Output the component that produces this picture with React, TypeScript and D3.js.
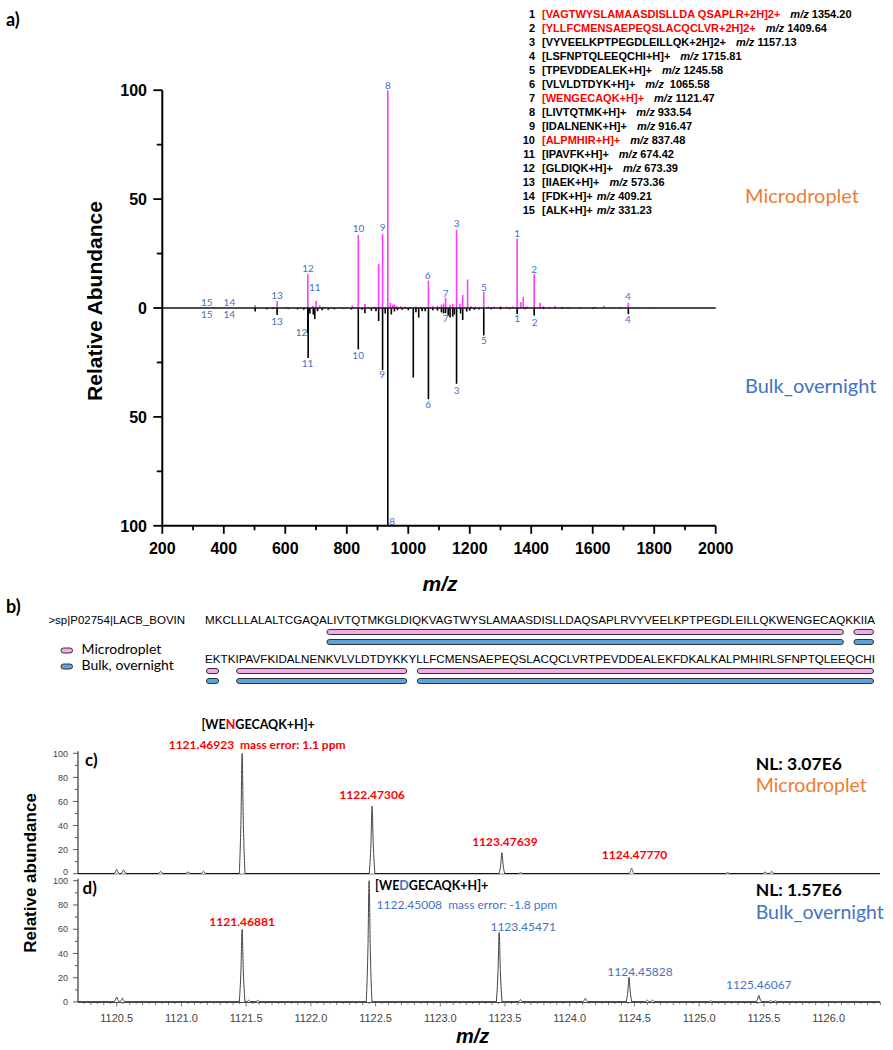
import * as d3 from 'd3'

// ---------- panel a: peptide list ----------
const legendPeptides = [
  '[VAGTWYSLAMAASDISLLDA QSAPLR+2H]2+',
  '[YLLFCMENSAEPEQSLACQCLVR+2H]2+',
  '[VYVEELKPTPEGDLEILLQK+2H]2+',
  '[LSFNPTQLEEQCHI+H]+',
  '[TPEVDDEALEK+H]+',
  '[VLVLDTDYK+H]+',
  '[WENGECAQK+H]+',
  '[LIVTQTMK+H]+',
  '[IDALNENK+H]+',
  '[ALPMHIR+H]+',
  '[IPAVFK+H]+',
  '[GLDIQK+H]+',
  '[IIAEK+H]+',
  '[FDK+H]+',
  '[ALK+H]+',
]
const legendMz = ['1354.20', '1409.64', '1157.13', '1715.81', '1245.58', ' 1065.58', '1121.47', '933.54', '916.47', '837.48', '674.42', '673.39', '573.36', '409.21', '331.23']
const legendRed = [true, true, false, false, false, false, true, false, false, true, false, false, false, false, false]

// ---------- panel a: mirror spectrum (m/z, relative abundance) ----------
const microPeaks: [number, number][] = [
  [502, 1.3], [560, 0.4], [573.4, 3.2], [673.4, 15.5], [690, 1.0], [700, 3.2], [712, 1.2], [725, 0.5],
  [745, 0.4], [780, 0.4], [800, 0.5], [818, 1.1], [837.5, 33.5], [859, 1.9], [870, 0.5], [890, 0.6],
  [903.7, 20.2], [916.5, 34.0], [933.5, 100], [942, 2.5], [950, 1.5], [955, 1.6], [962, 1.0], [975, 0.8],
  [990, 0.6], [1005, 0.5], [1025, 0.7], [1040, 0.5], [1065.6, 12.6], [1080, 0.8], [1095, 1.0], [1108, 1.6],
  [1115, 2.0], [1121.5, 4.7], [1136, 1.5], [1145, 2.0], [1157.1, 35.9], [1168, 2.0], [1177, 6.0], [1193, 13.1],
  [1205, 0.8], [1220, 0.6], [1245.6, 7.4], [1260, 0.7], [1280, 0.6], [1300, 0.8], [1320, 0.6], [1340, 0.7],
  [1354.2, 31.9], [1366.5, 2.7], [1374, 5.1], [1385, 0.8], [1409.6, 15.5], [1429, 2.4], [1440, 0.8], [1460, 0.5],
  [1477, 1.0], [1500, 0.6], [1520, 0.6], [1560, 0.5], [1607, 0.6], [1636, 1.1], [1660, 0.5], [1690, 0.5],
  [1715.8, 2.4], [1750, 0.4], [1790, 0.4], [1830, 0.3],
]
const bulkPeaks: [number, number][] = [
  [502, -1.6], [540, -0.6], [560, -0.5], [573.4, -3.2], [610, -0.5], [640, -0.6], [660, -0.8], [673.4, -11.5],
  [674.4, -22.9], [680, -2.5], [691, -3.0], [696, -5.1], [705, -1.5], [720, -1.0], [740, -0.8], [760, -0.6],
  [790, -0.5], [815, -0.7], [837.5, -19.0], [850, -0.8], [859, -2.4], [880, -1.2], [895, -1.5], [903.7, -6.0],
  [916.5, -28.5], [925, -2.5], [933.5, -100], [945, -3.0], [955, -1.6], [965, -1.0], [980, -0.8], [1000, -1.0],
  [1016.3, -31.9], [1025, -2.0], [1034, -4.4], [1045, -1.5], [1055, -1.5], [1065.6, -41.9], [1080, -1.0], [1095, -1.2],
  [1108, -2.0], [1115, -2.5], [1121.5, -2.4], [1130, -3.5], [1136, -4.4], [1144.6, -4.0], [1150, -3.0], [1157.1, -34.8],
  [1170, -2.5], [1177, -5.5], [1190, -1.6], [1200, -1.2], [1215, -0.8], [1230, -0.7], [1245.6, -12.6], [1270, -0.6],
  [1300, -0.6], [1330, -0.5], [1354.2, -2.8], [1380, -0.6], [1409.6, -3.5], [1440, -0.5], [1500, -0.4], [1600, -0.4],
  [1715.8, -2.8],
]
// peak numbers, placed at (m/z, abundance)
const microLabels: [string, number, number][] = [
  ['15', 344.7, 2.4], ['14', 418.2, 2.4], ['13', 573, 5.7], ['12', 674, 18], ['11', 696, 9.5],
  ['10', 838, 36.4], ['9', 916.5, 36.8], ['8', 934, 102.1], ['6', 1063, 14.7], ['7', 1121.6, 6.5],
  ['3', 1157.4, 38.7], ['5', 1246, 9.5], ['1', 1354.4, 34], ['2', 1409.7, 17.7], ['4', 1714.5, 5.1],
]
const bulkLabels: [string, number, number][] = [
  ['15', 344.7, -3.2], ['14', 418, -2.8], ['13', 573, -6], ['12', 653, -11.4], ['11', 672.5, -25.3],
  ['10', 837, -21.8], ['9', 915.4, -30.5], ['8', 947.7, -98], ['6', 1065, -44.3], ['7', 1121.6, -4.7],
  ['3', 1157.4, -37.9], ['5', 1246, -15], ['1', 1354.4, -4.7], ['2', 1411, -6.6], ['4', 1714.5, -5.4],
]
const xTicksA = [200, 400, 600, 800, 1000, 1200, 1400, 1600, 1800, 2000]
const yTicksA = [-100, -50, 0, 50, 100]

// ---------- panel b: sequence coverage ----------
const seqName = '>sp|P02754|LACB_BOVIN'
const sequence =
  'MKCLLLALALTCGAQALIVTQTMKGLDIQKVAGTWYSLAMAASDISLLDAQSAPLRVYVEELKPTPEGDLEILLQKWENGECAQKKIIA' +
  'EKTKIPAVFKIDALNENKVLVLDTDYKKYLLFCMENSAEPEQSLACQCLVRTPEVDDEALEKFDKALKALPMHIRLSFNPTQLEEQCHI'
const rowLen = 89
// covered residues, 1-based inclusive
const microCoverage: [number, number][] = [[17, 85], [87, 91], [94, 116], [118, 178]]
const bulkCoverage: [number, number][] = [[17, 85], [87, 91], [94, 116], [118, 178]]

// ---------- panels c/d: isotope clusters ----------
const cPeaks: [number, number][] = [
  [1120.5, 3.6], [1120.553, 3.2], [1120.84, 2], [1121.05, 1.5], [1121.17, 2], [1121.469, 100],
  [1122.473, 56.2], [1123.476, 17.5], [1123.62, 1], [1124.478, 4.5], [1125.22, 1], [1125.51, 1.5], [1125.56, 2],
]
const dPeaks: [number, number][] = [
  [1120.5, 4.1], [1120.544, 3.2], [1121.469, 59.9], [1121.52, 1.5], [1121.59, 1.5], [1122.45, 100],
  [1123.455, 57.5], [1123.62, 2], [1124.12, 3], [1124.458, 20.4], [1124.6, 1.5], [1124.64, 1.5],
  [1125.09, 1], [1125.461, 5.5], [1125.55, 1.2], [1125.59, 1],
]
const cLabels: [string, number, number][] = [
  ['1122.47306', 1122.473, 56.2], ['1123.47639', 1123.476, 17.5], ['1124.47770', 1124.478, 4.5],
]
const dLabels: [string, number, number][] = [
  ['1123.45471', 1123.455, 57.5], ['1124.45828', 1124.458, 20.4], ['1125.46067', 1125.461, 5.5],
]
const xTicksCD = [1120.5, 1121.0, 1121.5, 1122.0, 1122.5, 1123.0, 1123.5, 1124.0, 1124.5, 1125.0, 1125.5, 1126.0]
const yTicksCD = [0, 20, 40, 60, 80, 100]

const MAGENTA = '#ff3cff'
const LBLUE = '#4472c4'
const ORANGE = '#ed7d31'
const RED = '#ff0000'
const ARIAL = 'Liberation Sans, Arial, sans-serif'
const CALIBRI = 'Lato, Open Sans, sans-serif'

const xA = d3.scaleLinear().domain([200, 2000]).range([162.3, 715.7])
const yA = d3.scaleLinear().domain([-100, 100]).range([525.8, 90.2])
const xRes = d3.scaleLinear().domain([0, rowLen]).range([205, 875])
const xCD = d3.scaleLinear().domain([1120.5, 1126.0]).range([116.7, 828.6])
const yC = d3.scaleLinear().domain([0, 100]).range([873.7, 753.3])
const yD = d3.scaleLinear().domain([0, 100]).range([1002, 880.7])

const peakPath = (mz: number, h: number, y: d3.ScaleLinear<number, number>) => {
  const hw = 0.022
  const pts: [number, number][] = [[mz - hw, 0], [mz - hw * 0.4, h * 0.45], [mz, h], [mz + hw * 0.4, h * 0.45], [mz + hw, 0]]
  return d3.line<[number, number]>().x(d => xCD(d[0])).y(d => y(d[1])).curve(d3.curveMonotoneX)(pts) || ''
}

// split a coverage range into per-row segments
const rowSegments = (cov: [number, number][]) => {
  const out: { row: number; a: number; b: number }[] = []
  cov.forEach(([s, e]) => {
    for (let r = 0; r < 2; r++) {
      const lo = Math.max(s, r * rowLen + 1)
      const hi = Math.min(e, (r + 1) * rowLen)
      if (lo <= hi) out.push({ row: r, a: lo - r * rowLen - 1, b: hi - r * rowLen })
    }
  })
  return out
}

const CDAxes = ({ y, bottom, xLabels, skipTop }: { y: d3.ScaleLinear<number, number>; bottom: number; xLabels: boolean; skipTop?: boolean }) => {
  const minor = d3.range(0, 101, 10)
  const xMinor = d3.range(1120.25, 1126.4, 0.05)
  return (
    <g>
      <line x1={78} x2={880} y1={bottom} y2={bottom} stroke="#111" strokeWidth={1.3} />
      <line x1={78} x2={78} y1={y(100) - 2} y2={bottom} stroke="#111" strokeWidth={1} />
      {minor.map(v => (
        <line key={'m' + v} x1={v % 20 === 0 ? 73 : 75} x2={78} y1={y(v)} y2={y(v)} stroke="#333" strokeWidth={0.8} />
      ))}
      {yTicksCD.map(v => (
        <text key={'t' + v} x={68} y={y(v) + (v === 0 && skipTop ? 1.5 : v === 100 && !xLabels ? 3.5 : 3.2)}
          textAnchor="end" fontFamily={ARIAL} fontSize={9} fill="#444">{v}</text>
      ))}
      {xLabels && xMinor.map((v, i) => {
        const big = Math.abs(v * 2 - Math.round(v * 2)) < 1e-6
        const mid = Math.abs(v * 10 - Math.round(v * 10)) < 1e-6
        return <line key={'x' + i} x1={xCD(v)} x2={xCD(v)} y1={bottom} y2={bottom + (big ? 4.5 : mid ? 3 : 2)} stroke="#444" strokeWidth={0.7} />
      })}
      {xLabels && xTicksCD.map(v => (
        <text key={'xl' + v} x={xCD(v)} y={bottom + 20} textAnchor="middle" fontFamily={ARIAL} fontSize={11} fill="#444">{v.toFixed(1)}</text>
      ))}
    </g>
  )
}

export default function App() {
  const segsMicro = rowSegments(microCoverage)
  const segsBulk = rowSegments(bulkCoverage)
  const rowY = [629.5, 668.5]
  return (
    <svg width={893} height={1050} style={{ position: 'absolute', left: 0, top: 0, background: '#fff' }}>
      <rect width={893} height={1050} fill="#fff" />

      {/* ---------------- panel a ---------------- */}
      <text x={6} y={26} fontFamily={CALIBRI} fontWeight="bold" fontSize={18}>a)</text>

      {legendPeptides.map((p, i) => {
        const yb = 18 + i * 13.97
        return (
          <g key={p} fontFamily={ARIAL} fontWeight="bold" fontSize={11}>
            <text x={535} y={yb} textAnchor="end">{i + 1}</text>
            <text x={542} y={yb} style={{ whiteSpace: 'pre' }}>
              <tspan fill={legendRed[i] ? RED : '#000'}>{p}</tspan>
              <tspan dx={i >= 13 ? 4 : 10} fontStyle="italic">m/z</tspan>
              <tspan> {legendMz[i]}</tspan>
            </text>
          </g>
        )
      })}
      <text x={745} y={203} fontFamily={CALIBRI} fontSize={20} fill={ORANGE}>Microdroplet</text>
      <text x={745} y={393} fontFamily={CALIBRI} fontSize={20} fill={LBLUE}>Bulk_overnight</text>

      {bulkPeaks.map(([mz, v], i) => (
        <line key={'b' + i} x1={xA(mz)} x2={xA(mz)} y1={yA(0)} y2={yA(v)} stroke="#000" strokeWidth={1.6} />
      ))}
      {microPeaks.map(([mz, v], i) => (
        <line key={'p' + i} x1={xA(mz)} x2={xA(mz)} y1={yA(0)} y2={yA(v)} stroke={MAGENTA} strokeWidth={1.6} />
      ))}
      <line x1={xA(200)} x2={xA(2000)} y1={yA(0)} y2={yA(0)} stroke="#111" strokeWidth={1.6} />

      {microLabels.concat(bulkLabels).map(([t, mz, v], i) => (
        <text key={'l' + i} x={xA(mz)} y={yA(v)} dy="0.35em" textAnchor="middle" fontFamily={CALIBRI} fontSize={10} fill={LBLUE}>{t}</text>
      ))}

      {/* axes */}
      <line x1={xA(200)} x2={xA(200)} y1={yA(100)} y2={yA(-100)} stroke="#000" strokeWidth={2} />
      <line x1={xA(200)} x2={xA(2000)} y1={yA(-100)} y2={yA(-100)} stroke="#000" strokeWidth={2} />
      {d3.range(-100, 101, 25).map(v => (
        <line key={'ya' + v} x1={xA(200) - (v % 50 === 0 ? 9 : 5.5)} x2={xA(200)} y1={yA(v)} y2={yA(v)} stroke="#000" strokeWidth={1.8} />
      ))}
      {yTicksA.map(v => (
        <text key={'yt' + v} x={147} y={yA(v) + 6} textAnchor="end" fontFamily={ARIAL} fontWeight="bold" fontSize={16}>{Math.abs(v)}</text>
      ))}
      {d3.range(200, 2001, 100).map(v => (
        <line key={'xa' + v} x1={xA(v)} x2={xA(v)} y1={yA(-100)} y2={yA(-100) + (v % 200 === 0 ? 8 : 4.5)} stroke="#000" strokeWidth={1.8} />
      ))}
      {xTicksA.map(v => (
        <text key={'xt' + v} x={xA(v)} y={554} textAnchor="middle" fontFamily={ARIAL} fontWeight="bold" fontSize={16}>{v}</text>
      ))}
      <text transform="translate(102,301) rotate(-90)" textAnchor="middle" fontFamily={ARIAL} fontWeight="bold" fontSize={21}>Relative Abundance</text>
      <text x={440} y={591} textAnchor="middle" fontFamily={ARIAL} fontWeight="bold" fontStyle="italic" fontSize={21}>m/z</text>

      {/* ---------------- panel b ---------------- */}
      <text x={6} y={613} fontFamily={CALIBRI} fontWeight="bold" fontSize={18}>b)</text>
      <text x={48.4} y={624} fontFamily={ARIAL} fontSize={11.5}>{seqName}</text>
      {[0, 1].map(r => (
        <text key={'seq' + r} x={xRes(0)} y={[624, 662.5][r]} fontFamily={ARIAL} fontSize={11.5}
          textLength={xRes(rowLen) - xRes(0)} lengthAdjust="spacingAndGlyphs">
          {sequence.slice(r * rowLen, (r + 1) * rowLen)}
        </text>
      ))}
      {segsMicro.map((s, i) => (
        <rect key={'cm' + i} x={xRes(s.a) + 1.5} y={rowY[s.row]} width={xRes(s.b) - xRes(s.a) - 3} height={5} rx={2.5}
          fill="#f5a9e6" stroke="#333" strokeWidth={1} />
      ))}
      {segsBulk.map((s, i) => (
        <rect key={'cb' + i} x={xRes(s.a) + 1.5} y={rowY[s.row] + 10} width={xRes(s.b) - xRes(s.a) - 3} height={5} rx={2.5}
          fill="#5ba3dd" stroke="#333" strokeWidth={1} />
      ))}
      <rect x={61} y={648} width={11.5} height={5} rx={2.5} fill="#f5a9e6" stroke="#333" strokeWidth={1} />
      <rect x={61} y={664} width={11.5} height={5} rx={2.5} fill="#5ba3dd" stroke="#333" strokeWidth={1} />
      <text x={81.5} y={654} fontFamily={CALIBRI} fontSize={14}>Microdroplet</text>
      <text x={81.5} y={670} fontFamily={CALIBRI} fontSize={14}>Bulk, overnight</text>

      {/* ---------------- panel c ---------------- */}
      <CDAxes y={yC} bottom={yC(0)} xLabels={false} skipTop={true} />
      {cPeaks.map(([mz, h], i) => (
        <path key={'cp' + i} d={peakPath(mz, h, yC)} fill="#fff" stroke="#444" strokeWidth={1} />
      ))}
      <text x={85} y={766} fontFamily={CALIBRI} fontWeight="bold" fontSize={17}>c)</text>
      <text x={xCD(1121.469) + 16} y={729} textAnchor="middle" fontFamily={CALIBRI} fontWeight="bold" fontSize={12.5}>
        [WE<tspan fill={RED}>N</tspan>GECAQK+H]+
      </text>
      <text x={xCD(1121.469) + 15} y={748.5} textAnchor="middle" fontFamily={CALIBRI} fontWeight="bold" fontSize={12} fill={RED}
        style={{ whiteSpace: 'pre' }}>1121.46923  mass error: 1.1 ppm</text>
      {cLabels.map(([t, mz, h], i) => (
        <text key={'cl' + i} x={xCD(mz) + (i === 0 ? 0 : 3)} y={yC(h) - (i === 2 ? 9 : 7)} textAnchor="middle"
          fontFamily={CALIBRI} fontWeight="bold" fontSize={12} fill={RED}>{t}</text>
      ))}
      <text x={755.7} y={770} fontFamily={CALIBRI} fontWeight="bold" fontSize={17.5}>NL: 3.07E6</text>
      <text x={755.7} y={792} fontFamily={CALIBRI} fontSize={19.5} fill={ORANGE}>Microdroplet</text>

      {/* ---------------- panel d ---------------- */}
      <CDAxes y={yD} bottom={yD(0)} xLabels={true} />
      {dPeaks.map(([mz, h], i) => (
        <path key={'dp' + i} d={peakPath(mz, h, yD)} fill="#fff" stroke="#444" strokeWidth={1} />
      ))}
      <text x={82.6} y={894} fontFamily={CALIBRI} fontWeight="bold" fontSize={17}>d)</text>
      <text x={xCD(1122.45) + 6} y={889.5} fontFamily={CALIBRI} fontWeight="bold" fontSize={12.5}>
        [WE<tspan fill={LBLUE}>D</tspan>GECAQK+H]+
      </text>
      <text x={xCD(1122.45) + 7.5} y={908.5} fontFamily={CALIBRI} fontSize={12} fill={LBLUE}
        style={{ whiteSpace: 'pre' }}>1122.45008  mass error: -1.8 ppm</text>
      <text x={xCD(1121.469)} y={yD(59.9) - 3} textAnchor="middle" fontFamily={CALIBRI} fontWeight="bold" fontSize={12} fill={RED}>1121.46881</text>
      {dLabels.map(([t, mz, h], i) => (
        <text key={'dl' + i} x={xCD(mz) + [24, 11, 0][i]} y={yD(h) - [1, 1.5, 6][i]} textAnchor="middle"
          fontFamily={CALIBRI} fontSize={12} fill={LBLUE}>{t}</text>
      ))}
      <text x={755.7} y={895.5} fontFamily={CALIBRI} fontWeight="bold" fontSize={17.5}>NL: 1.57E6</text>
      <text x={755.7} y={918.5} fontFamily={CALIBRI} fontSize={19.5} fill={LBLUE}>Bulk_overnight</text>

      <text transform="translate(36,873) rotate(-90)" textAnchor="middle" fontFamily={ARIAL} fontWeight="bold" fontSize={17}>Relative abundance</text>
      <text x={472.6} y={1043} textAnchor="middle" fontFamily={ARIAL} fontWeight="bold" fontStyle="italic" fontSize={20}>m/z</text>
    </svg>
  )
}
